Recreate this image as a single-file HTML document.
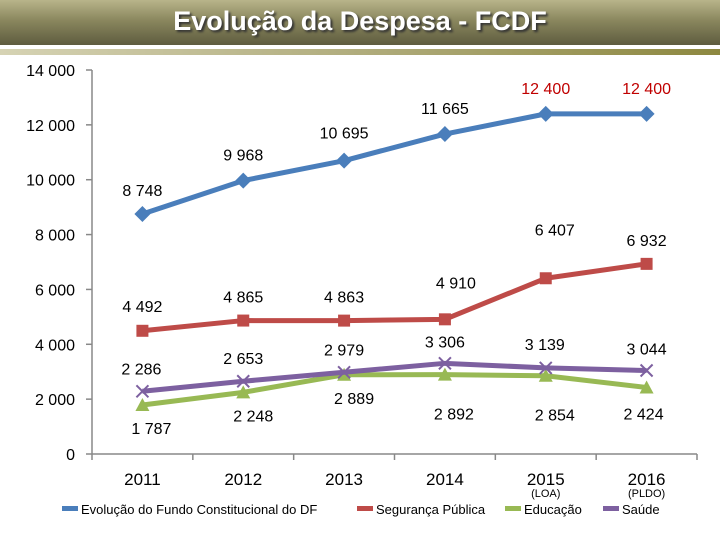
<!DOCTYPE html>
<html><head><meta charset="utf-8"><style>
body{margin:0;width:720px;height:540px;background:#fff;overflow:hidden;font-family:"Liberation Sans",sans-serif}
#title{position:absolute;left:0;top:0;width:720px;height:45px;background:linear-gradient(180deg,#b8b48a 0%,#8a875e 45%,#5e5c3f 100%);color:#fff;font:bold 27px "Liberation Sans",sans-serif;text-align:center;line-height:42px;text-shadow:2px 2px 2px #333}
#stripe{position:absolute;left:0;top:49px;width:720px;height:6px;background:linear-gradient(90deg,#d6d3b4,#b0ac7c 50%,#8d8840)}
svg{position:absolute;left:0;top:0}
text{font-family:"Liberation Sans",sans-serif}
</style></head><body>
<div id="title">Evolução da Despesa - FCDF</div>
<div id="stripe"></div>
<svg id="c" width="720" height="540"></svg>
<script>
const categories=["2011","2012","2013","2014","2015","2016"];
const subLabels=["","","","","(LOA)","(PLDO)"];
const yTicks=[0,2000,4000,6000,8000,10000,12000,14000];
const yTickLabels=["0","2 000","4 000","6 000","8 000","10 000","12 000","14 000"];
const fundo=[8748,9968,10695,11665,12400,12400];
const seguranca=[4492,4865,4863,4910,6407,6932];
const educacao=[1787,2248,2889,2892,2854,2424];
const saude=[2286,2653,2979,3306,3139,3044];
const seriesNames=["Evolução do Fundo Constitucional do DF","Segurança Pública","Educação","Saúde"];
const NS="http://www.w3.org/2000/svg";
const svg=document.getElementById('c');
const X0=92,X1=697,Y0=454,Y1=70;
const bw=(X1-X0)/categories.length;
function x(i){return X0+bw*(i+0.5);}
function y(v){return Y0-(v/14000)*(Y0-Y1);}
function el(t,a){const e=document.createElementNS(NS,t);for(const k in a)e.setAttribute(k,a[k]);svg.appendChild(e);return e;}
function txt(s,xx,yy,anchor,size,fill){const t=el('text',{x:xx,y:yy,'text-anchor':anchor,'font-size':size,fill:fill});t.textContent=s;return t;}
const ax=el('line',{x1:X0,y1:Y1,x2:X0,y2:Y0,stroke:'#888','stroke-width':1.5});


const bx=el('line',{x1:X0,y1:Y0,x2:X1,y2:Y0,stroke:'#888','stroke-width':1.5});


yTicks.forEach((v,i)=>{
 el('line',{x1:X0-6,y1:y(v),x2:X0,y2:y(v),stroke:'#888','stroke-width':1.5});
 const t=txt(yTickLabels[i],75,y(v)+6,'end',16,'#000');
 
 
});
for(let i=0;i<=categories.length;i++){el('line',{x1:X0+bw*i,y1:Y0,x2:X0+bw*i,y2:Y0+6,stroke:'#888','stroke-width':1.5});}
categories.forEach((c,i)=>{
 const t=txt(c,x(i),485,'middle',17,'#000');
 
 
 if(subLabels[i]){const s=txt(subLabels[i],x(i),497,'middle',11,'#000');
 
 }
});
const series=[
 {d:fundo,c:'#4a7ebb',m:'diamond',name:'fundo',lab:[[0,-24],[0,-26],[0,-28],[0,-26],[0,-26],[0,-26]],lc:['#000','#000','#000','#000','#c00000','#c00000']},
 {d:seguranca,c:'#be4b48',m:'square',name:'seguranca',lab:[[0,-25],[0,-24],[0,-24],[11,-37],[9,-49],[0,-24]],lc:null},
 {d:educacao,c:'#98b954',m:'triangle',name:'educacao',lab:[[9,23],[10,23],[10,23],[9,39],[9,39],[-3,26]],lc:null},
 {d:saude,c:'#7d60a0',m:'x',name:'saude',lab:[[-1,-23],[0,-23],[0,-23],[0,-22],[-1,-24],[0,-22]],lc:null}
];
series.forEach((s,si)=>{
 const p=el('polyline',{points:s.d.map((v,i)=>x(i)+','+y(v)).join(' '),fill:'none',stroke:s.c,'stroke-width':5,'stroke-linejoin':'round'});
 
 
 s.d.forEach((v,i)=>{
  const cx=x(i),cy=y(v);let m;
  if(s.m==='diamond')m=el('polygon',{points:`${cx},${cy-8} ${cx+8},${cy} ${cx},${cy+8} ${cx-8},${cy}`,fill:s.c});
  else if(s.m==='square')m=el('rect',{x:cx-6,y:cy-6,width:12,height:12,fill:s.c});
  else if(s.m==='triangle')m=el('polygon',{points:`${cx},${cy-7} ${cx+7},${cy+6} ${cx-7},${cy+6}`,fill:s.c});
  else m=el('path',{d:`M${cx-6},${cy-6}L${cx+6},${cy+6}M${cx+6},${cy-6}L${cx-6},${cy+6}`,stroke:s.c,'stroke-width':2});
  
  
  const lbl=v.toString().replace(/\B(?=(\d{3})+(?!\d))/g,' ');
  const t=txt(lbl,cx+s.lab[i][0],cy+s.lab[i][1]+6,'middle',16,s.lc?s.lc[i]:'#000');
  
  
 });
});
const lx=[62,357,505,603];
seriesNames.forEach((n,i)=>{
 const r=el('rect',{x:lx[i],y:506,width:16,height:5,fill:series[i].c});
 
 
 const t=txt(n,lx[i]+19,514,'start',13,'#000');
 
 
});
</script>
</body></html>
